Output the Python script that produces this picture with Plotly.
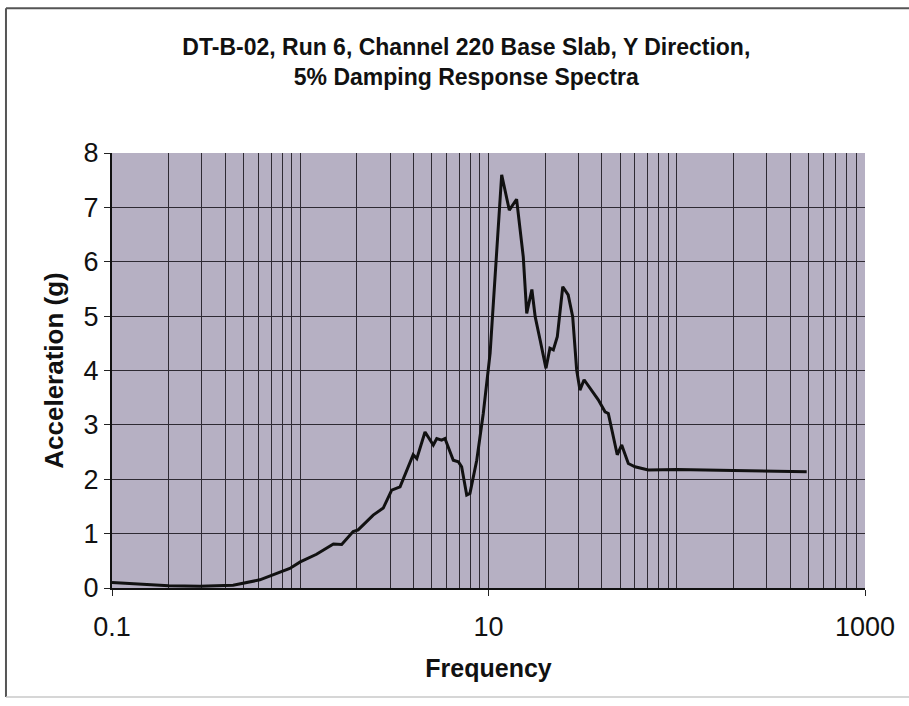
import plotly.graph_objects as go

freq = [0.1, 0.15, 0.2, 0.293, 0.44, 0.61, 0.72, 0.88, 1.0, 1.22, 1.50, 1.66, 1.91, 2.03, 2.44, 2.76,
        3.06, 3.39, 3.98, 4.16, 4.60, 5.09, 5.31, 5.64, 5.87, 6.50, 6.92, 7.20, 7.66, 7.97, 8.66,
        9.38, 10.2, 11.75, 12.9, 14.1, 15.3, 15.96, 17.0, 17.7, 18.8, 20.2, 21.2, 22.1, 23.2,
        24.8, 26.5, 28.0, 29.4, 30.6, 32.2, 36.0, 38.3, 41.6, 43.3, 48.3, 51.0, 55.3, 60.0,
        70.6, 100, 200, 300, 490]
accel = [0.10, 0.07, 0.04, 0.03, 0.05, 0.15, 0.24, 0.36, 0.48, 0.62, 0.81, 0.80, 1.04, 1.07, 1.34, 1.47,
         1.80, 1.86, 2.45, 2.38, 2.87, 2.63, 2.75, 2.72, 2.75, 2.35, 2.32, 2.23, 1.71, 1.74, 2.35,
         3.21, 4.32, 7.60, 6.95, 7.15, 6.09, 5.05, 5.49, 4.99, 4.56, 4.04, 4.41, 4.38, 4.62,
         5.54, 5.39, 4.99, 4.01, 3.64, 3.83, 3.58, 3.46, 3.24, 3.21, 2.45, 2.63, 2.29, 2.23,
         2.17, 2.18, 2.16, 2.15, 2.14]

x_ticks = [0.1, 10, 1000]
x_tick_text = ["0.1", "10", "1000"]
y_ticks = [0, 1, 2, 3, 4, 5, 6, 7, 8]

minor_vals = [m * 10 ** e for e in range(-1, 3) for m in range(1, 10) if not (m == 1 and e in (-1, 1))]

title_text = "DT-B-02, Run 6, Channel 220 Base Slab, Y Direction,<br>5% Damping Response Spectra"

grid_col = "#2e2a33"
font_fam = "Liberation Sans, Arial, sans-serif"

fig = go.Figure()
fig.add_trace(go.Scatter(x=freq, y=accel, mode="lines",
                         line=dict(color="#111111", width=3), showlegend=False))

fig.update_layout(
    width=909, height=706,
    paper_bgcolor="white", plot_bgcolor="#b6b0c3",
    margin=dict(l=112, r=44, t=153, b=118),
    title=dict(text="<b>" + title_text + "</b>", x=0.513, xanchor="center", y=0.922, yanchor="top",
               font=dict(family=font_fam, size=23, color="#111111")),
    font=dict(family=font_fam, color="#111111"),
)
fig.update_xaxes(type="log", range=[-1, 3], tickvals=x_ticks, ticktext=x_tick_text,
                 ticks="outside", ticklen=6, tickcolor="#222", tickfont=dict(size=27),
                 ticklabelstandoff=8,
                 showgrid=True, gridcolor=grid_col, gridwidth=1.2,
                 minor=dict(tickvals=minor_vals, showgrid=True, gridcolor=grid_col, gridwidth=1.2, ticks=""),
                 showline=True, linecolor="#111", linewidth=2, mirror=False,
                 title=dict(text="<b>Frequency</b>", font=dict(size=25), standoff=18),
                 zeroline=False)
fig.update_yaxes(range=[0, 8], tickvals=y_ticks, ticks="outside", ticklen=6, tickcolor="#222",
                 tickfont=dict(size=27), showgrid=True, gridcolor=grid_col, gridwidth=1.2,
                 showline=True, linecolor="#111", linewidth=2,
                 title=dict(text="<b>Acceleration (g)</b>", font=dict(size=26), standoff=12),
                 zeroline=False)

# image frame (top and left dark, bottom faint)
fig.add_shape(type="line", xref="paper", yref="paper", x0=-0.1408, x1=1.1, y0=1.333, y1=1.333,
              line=dict(color="#555", width=2), layer="below")
fig.add_shape(type="line", xref="paper", yref="paper", x0=-0.1408, x1=-0.1408, y0=1.333, y1=-0.2506,
              line=dict(color="#555", width=2), layer="below")
fig.add_shape(type="line", xref="paper", yref="paper", x0=-0.1408, x1=1.1, y0=-0.2506, y1=-0.2506,
              line=dict(color="#c8c8c8", width=1.5), layer="below")

fig.write_html("out.html", config={"displayModeBar": False},
               post_script="document.body.style.margin='0';")
